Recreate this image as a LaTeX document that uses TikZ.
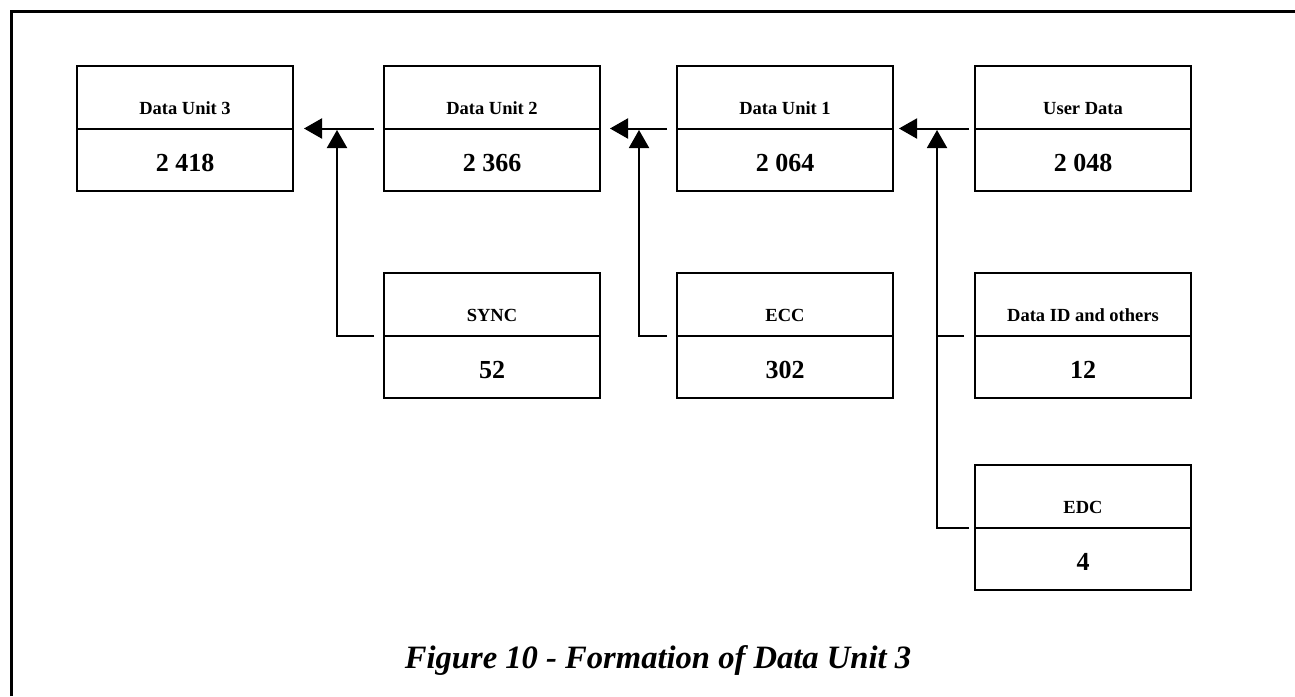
\documentclass[tikz,border=0pt]{standalone}
\usepackage{fontspec}
\setmainfont{Liberation Serif}
\usetikzlibrary{arrows.meta}
\tikzset{
  dbox/.style={draw, line width=2pt, minimum width=216pt, minimum height=125pt, inner sep=0pt},
  lbl/.style={font=\fontsize{18.5}{20}\selectfont\bfseries, anchor=base, inner sep=0pt},
  num/.style={font=\fontsize{26}{28}\selectfont\bfseries, anchor=base, inner sep=0pt},
  conn/.style={line width=2pt},
  arr/.style={conn, -{Triangle[length=18pt,width=20pt]}},
  frameline/.style={line width=3pt},
  captiontext/.style={font=\fontsize{32.6}{36}\selectfont\bfseries\itshape, anchor=base, inner sep=0pt}
}
\newcommand\dbx[5]{%
  \node[dbox] (#1) at (#2,#3) {};
  \draw[line width=2pt] (#1.west) -- (#1.east);
  \node[lbl] (#1-l) at ([yshift=14pt]#1.center) {#4};
  \node[num] (#1-n) at ([yshift=-42.5pt]#1.center) {#5};
}
\begin{document}
\begin{tikzpicture}[x=1pt,y=-1pt]
\useasboundingbox (0,0) rectangle (1295,696);
\draw[frameline] (11,696) -- (11,11) -- (1295,11);
\dbx{du3}{185}{128.5}{Data Unit 3}{2 418}
\dbx{du2}{492}{128.5}{Data Unit 2}{2 366}
\dbx{du1}{785}{128.5}{Data Unit 1}{2 064}
\dbx{ud}{1083}{128.5}{User Data}{2 048}
\dbx{sync}{492}{335.5}{SYNC}{52}
\dbx{ecc}{785}{335.5}{ECC}{302}
\dbx{did}{1083}{335.5}{Data ID and others}{12}
\dbx{edc}{1083}{527.5}{EDC}{4}
\coordinate (j1) at ([xshift=43pt,yshift=-1.5pt]du3.east);
\coordinate (j2) at ([xshift=38pt,yshift=-1.5pt]du2.east);
\coordinate (j3) at ([xshift=43pt,yshift=-1.5pt]du1.east);
\draw[arr] ([xshift=-9pt]du2.west) -- ([xshift=10pt]du3.east);
\draw[arr] ([xshift=-9pt]sync.west) -| (j1);
\draw[arr] ([xshift=-9pt]du1.west) -- ([xshift=9pt]du2.east);
\draw[arr] ([xshift=-9pt]ecc.west) -| (j2);
\draw[arr] ([xshift=-5pt]ud.west) -- ([xshift=5pt]du1.east);
\draw[arr] ([xshift=-5pt]edc.west) -| (j3);
\draw[conn] ([xshift=-10pt]did.west) -- (j3 |- did.west);
\node[captiontext] (caption) at (658,668) {Figure 10 - Formation of Data Unit 3};
\end{tikzpicture}
\end{document}
